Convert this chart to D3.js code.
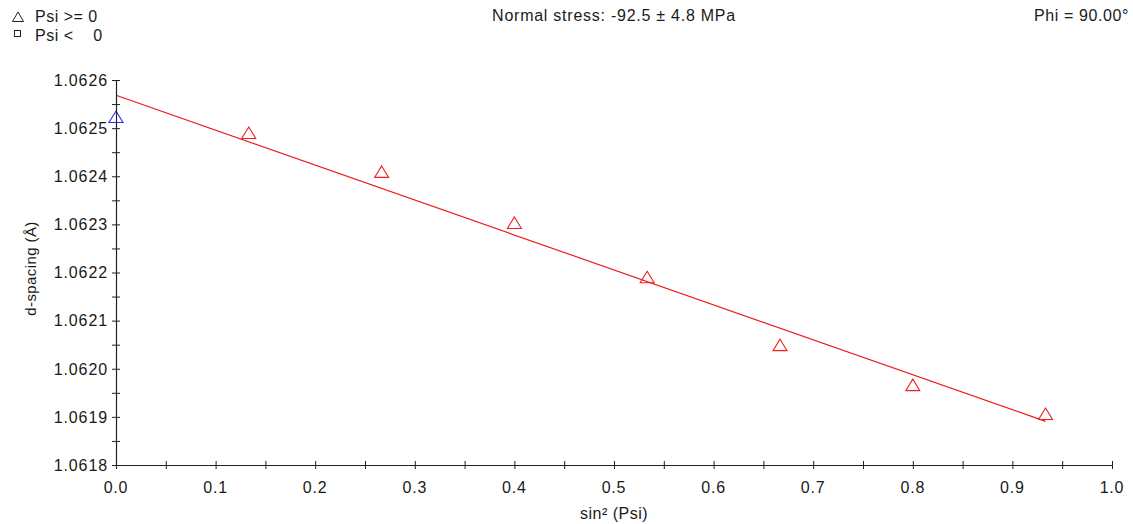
<!DOCTYPE html>
<html>
<head>
<meta charset="utf-8">
<script src="https://cdn.jsdelivr.net/npm/d3@7"></script>
<style>
  body { margin: 0; background: #fff; }
  text { font-family: 'Liberation Sans', Arial, sans-serif; fill: #1a1a1a; }
</style>
</head>
<body>
<div id="chart"></div>
<script>
// sin^2(psi) values and measured d-spacings (Å)
var sin2psi = [0, 0.1333, 0.2667, 0.4, 0.5333, 0.6667, 0.8, 0.9333]
var dSpacing = [1.062523, 1.06249, 1.062409, 1.062303, 1.06219, 1.062049, 1.061966, 1.061906]
// tilt 0 drawn blue, the rest red
var pointColors = ['#2b2bf0', '#f02020', '#f02020', '#f02020', '#f02020', '#f02020', '#f02020', '#f02020']

var xTicks = [0, 0.1, 0.2, 0.3, 0.4, 0.5, 0.6, 0.7, 0.8, 0.9, 1.0]
var yTicks = [1.0618, 1.0619, 1.062, 1.0621, 1.0622, 1.0623, 1.0624, 1.0625, 1.0626]

var titleText = 'Normal stress: -92.5 \u00b1 4.8 MPa'
var phiText = 'Phi = 90.00\u00b0'
var legendLabels = ['Psi >= 0', 'Psi <\u00a0\u00a0\u00a0 0']

var margin = { top: 80, left: 116, right: 21, bottom: 59 }
var width = 1133 - margin.left - margin.right
var height = 524 - margin.top - margin.bottom

var root = d3
  .select('#chart')
  .append('svg')
  .attr('width', 1133)
  .attr('height', 524)

var svg = root
  .append('g')
  .attr('transform', 'translate(' + margin.left + ',' + margin.top + ')')

var xPositionScale = d3.scaleLinear().domain([0, 1]).range([0, width])
var yPositionScale = d3.scaleLinear().domain([1.0618, 1.0626]).range([height, 0])

// least squares line through the points
var mx = d3.mean(sin2psi)
var my = d3.mean(dSpacing)
var sxy = d3.sum(sin2psi, (x, i) => (x - mx) * (dSpacing[i] - my))
var sxx = d3.sum(sin2psi, x => (x - mx) * (x - mx))
var slope = sxy / sxx
var intercept = my - slope * mx
var fitX = [0, d3.max(sin2psi)]

svg
  .append('line')
  .attr('x1', xPositionScale(fitX[0]))
  .attr('y1', yPositionScale(intercept + slope * fitX[0]))
  .attr('x2', xPositionScale(fitX[1]))
  .attr('y2', yPositionScale(intercept + slope * fitX[1]))
  .attr('stroke', '#f01818')
  .attr('stroke-width', 1.2)

var triangle = 'M0,-6 L7,5.5 L-7,5.5 Z'

svg
  .selectAll('.pt')
  .data(sin2psi)
  .enter()
  .append('path')
  .attr('class', 'pt')
  .attr('d', triangle)
  .attr('transform', (d, i) => 'translate(' + xPositionScale(d) + ',' + yPositionScale(dSpacing[i]) + ')')
  .attr('fill', 'none')
  .attr('stroke', (d, i) => pointColors[i])
  .attr('stroke-width', 1.1)

// axes: ticks every half step crossing the axis line
var xAxis = d3
  .axisBottom(xPositionScale)
  .tickValues(d3.range(0, 1.0001, 0.05))
  .tickSizeInner(0)
  .tickSizeOuter(0)
  .tickFormat('')

var gx = svg
  .append('g')
  .attr('class', 'axis x-axis')
  .attr('transform', 'translate(0,' + height + ')')
  .call(xAxis)
gx.select('.domain').attr('stroke', '#222').attr('stroke-width', 1.2)
gx.selectAll('.tick line').attr('y1', -4).attr('y2', 4).attr('stroke', '#222')

gx
  .selectAll('.xlabel')
  .data(xTicks)
  .enter()
  .append('text')
  .attr('x', d => xPositionScale(d))
  .attr('y', 28)
  .attr('text-anchor', 'middle')
  .attr('font-size', 16)
  .attr('letter-spacing', 0.8)
  .text(d => d3.format('.1f')(d))

var yAxis = d3
  .axisLeft(yPositionScale)
  .tickValues(d3.range(0, 17).map(i => 1.0618 + i * 0.00005))
  .tickSizeInner(0)
  .tickSizeOuter(0)
  .tickFormat('')

var gy = svg
  .append('g')
  .attr('class', 'axis y-axis')
  .call(yAxis)
gy.select('.domain').attr('stroke', '#222').attr('stroke-width', 1.2)
gy.selectAll('.tick line').attr('x1', -4).attr('x2', 4).attr('stroke', '#222')

gy
  .selectAll('.ylabel')
  .data(yTicks)
  .enter()
  .append('text')
  .attr('x', -8)
  .attr('y', d => yPositionScale(d))
  .attr('dy', '0.36em')
  .attr('text-anchor', 'end')
  .attr('font-size', 16)
  .attr('letter-spacing', 0.9)
  .text(d => d3.format('.4f')(d))

// axis titles
svg
  .append('text')
  .text('sin\u00b2 (Psi)')
  .attr('x', xPositionScale(0.5))
  .attr('y', height + 54)
  .attr('text-anchor', 'middle')
  .attr('font-size', 16)
  .attr('letter-spacing', 0.5)

svg
  .append('text')
  .text('d-spacing (\u00c5)')
  .attr('transform', 'translate(' + (-80) + ',' + (height / 2 - 4) + ') rotate(-90)')
  .attr('text-anchor', 'middle')
  .attr('font-size', 15)
  .attr('letter-spacing', 0.4)

// header texts
root
  .append('text')
  .text(titleText)
  .attr('x', 614)
  .attr('y', 21)
  .attr('text-anchor', 'middle')
  .attr('font-size', 16)
  .attr('letter-spacing', 0.75)

root
  .append('text')
  .text(phiText)
  .attr('x', 1129)
  .attr('y', 21)
  .attr('text-anchor', 'end')
  .attr('font-size', 16)
  .attr('letter-spacing', 0.6)

// legend
root
  .append('path')
  .attr('d', 'M0,-5 L5.5,4.5 L-5.5,4.5 Z')
  .attr('transform', 'translate(18,17)')
  .attr('fill', 'none')
  .attr('stroke', '#222')

root
  .append('rect')
  .attr('x', 14.5)
  .attr('y', 30.5)
  .attr('width', 6)
  .attr('height', 6)
  .attr('fill', 'none')
  .attr('stroke', '#222')

root
  .selectAll('.legend-label')
  .data(legendLabels)
  .enter()
  .append('text')
  .attr('class', 'legend-label')
  .text(d => d)
  .attr('x', 35)
  .attr('y', (d, i) => 22 + i * 19)
  .attr('font-size', 16)
  .attr('letter-spacing', 0.5)
</script>
</body>
</html>
